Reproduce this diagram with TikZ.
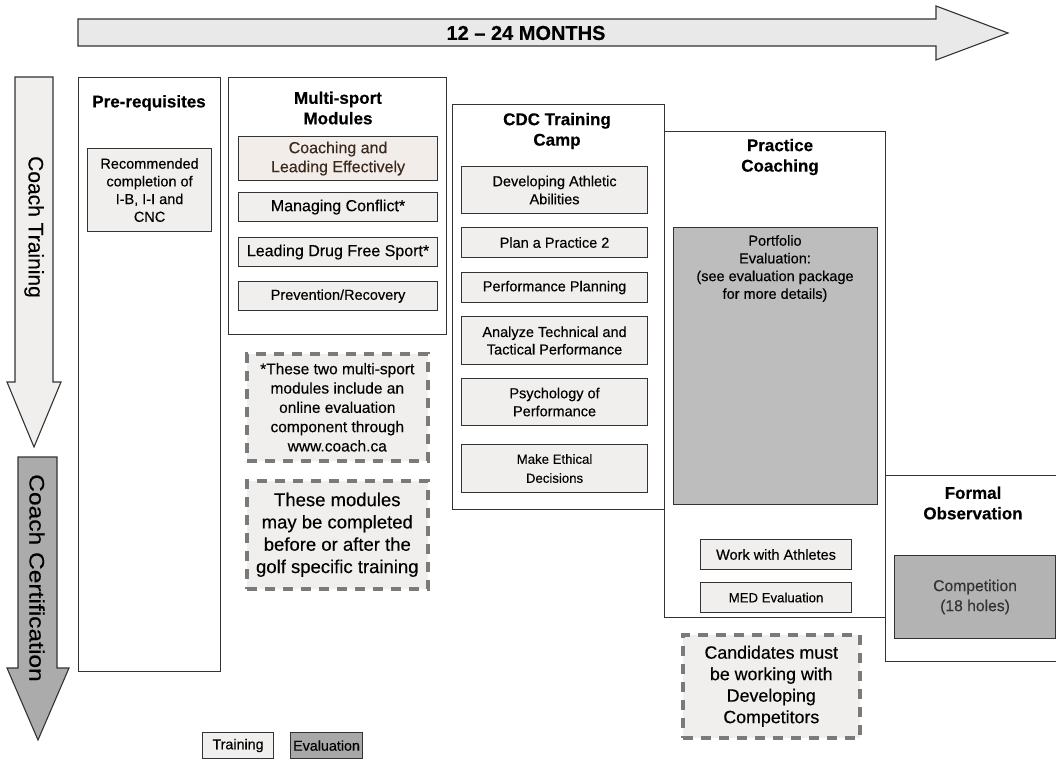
\documentclass[tikz,border=0pt]{standalone}
\usepackage{fontspec}
\setmainfont{Liberation Sans}[FakeBold=0.3]
\definecolor{linec}{HTML}{333333}
\definecolor{trainfill}{HTML}{F1EFEE}
\definecolor{pinkfill}{HTML}{F3EDEA}
\definecolor{arrowfill}{HTML}{E9E9E9}
\definecolor{certfill}{HTML}{ABABAB}
\definecolor{evalfill}{HTML}{BDBDBD}
\definecolor{compfill}{HTML}{B3B3B3}
\definecolor{legevfill}{HTML}{A8A8A8}
\definecolor{dashc}{HTML}{7A7A7A}
\definecolor{browntext}{HTML}{3A2A1E}
\definecolor{comptext}{HTML}{333333}
\newcommand{\fs}[2]{\fontsize{#1}{#2}\selectfont}
\begin{document}
\begin{tikzpicture}[x=1pt,y=-1pt,
  cont/.style={draw=linec, line width=1.1pt, fill=white, inner sep=0pt, anchor=north west},
  bx/.style={draw=linec, line width=1.1pt, fill=trainfill, inner sep=0pt, anchor=north west, align=center, text=black},
  evbx/.style={bx, fill=evalfill},
  ttl/.style={font=\bfseries\fs{17}{20.5}, align=center, inner sep=0pt, text=black},
  note/.style={draw=dashc, line width=3.6pt, dash pattern=on 10pt off 8pt, fill=trainfill, inner sep=0pt, anchor=north west, align=center}
]
\useasboundingbox (0,0) rectangle (1056,759);

% ---- top arrow
\draw[linec, line width=1.1pt, fill=arrowfill]
  (78,19) -- (936,19) -- (936,6) -- (1008,33) -- (936,60) -- (936,46) -- (78,46) -- cycle;
\node[font=\bfseries\fs{20}{24}, inner sep=0pt] (months) at (526,33) {12 -- 24 MONTHS};

% ---- Coach Training arrow
\draw[linec, line width=1.1pt, fill=trainfill]
  (15,77) -- (53,77) -- (53,382) -- (61,382) -- (34,447) -- (7,382) -- (15,382) -- cycle;
\node[font=\fs{21}{24}, rotate=-90, inner sep=0pt] (ctrain) at (34,227) {Coach Training};

% ---- Coach Certification arrow
\draw[linec, line width=1.1pt, fill=certfill]
  (18,457) -- (57,457) -- (57,668) -- (69,668) -- (38,740) -- (7,668) -- (18,668) -- cycle;
\node[font=\fs{21}{24}, rotate=-90, inner sep=0pt] (ccert) at (37,578) {\scalebox{1.17}[1]{Coach Certification}};

% ---- Pre-requisites
\node[cont, minimum width=142, minimum height=594] (pre) at (78,77) {};
\node[ttl] (pretitle) at (149,103) {Pre-requisites};
\node[bx, minimum width=124, minimum height=83, font=\fs{14.5}{17.7}] (rec) at (87,148)
  {Recommended\\completion of\\I-B, I-I and\\CNC};

% ---- Multi-sport modules
\node[cont, minimum width=218, minimum height=257] (multi) at (228,77) {};
\node[ttl] (multititle) at (338,108) {Multi-sport\\Modules};
\node[bx, fill=pinkfill, text=browntext, minimum width=199, minimum height=44, font=\fs{16}{19}] (cle) at (238,136)
  {Coaching and\\Leading Effectively};
\node[bx, minimum width=199, minimum height=29, font=\fs{16}{19}] (mc) at (238,192) {Managing Conflict*};
\node[bx, minimum width=199, minimum height=29, font=\fs{16}{19}] (ldfs) at (238,237) {Leading Drug Free Sport*};
\node[bx, minimum width=199, minimum height=29, font=\fs{14.5}{17}] (pr) at (238,281) {Prevention/Recovery};

% notes below multi-sport
\node[note, minimum width=181, minimum height=107, font=\fs{15.5}{19.3}] (note1) at (245,352)
  {*These two multi-sport\\modules include an\\online evaluation\\component through\\www.coach.ca};
\node[note, minimum width=181, minimum height=108, font=\fs{18.5}{22.3}] (note2) at (245,479)
  {These modules\\may be completed\\before or after the\\golf specific training};

% ---- CDC Training Camp
\node[cont, minimum width=212, minimum height=405] (cdc) at (452,104) {};
\node[ttl] (cdctitle) at (557,131) {CDC Training\\Camp};
\node[bx, minimum width=186, minimum height=47, font=\fs{14.5}{18}] (daa) at (461,166) {Developing Athletic\\Abilities};
\node[bx, minimum width=186, minimum height=30, font=\fs{14.5}{18}] (pap) at (461,227) {Plan a Practice 2};
\node[bx, minimum width=186, minimum height=30, font=\fs{14.5}{18}] (pp) at (461,272) {Performance Planning};
\node[bx, minimum width=186, minimum height=48, font=\fs{14.5}{17.5}] (atp) at (461,316) {Analyze Technical and\\Tactical Performance};
\node[bx, minimum width=186, minimum height=47, font=\fs{14.5}{18}] (psy) at (461,378) {Psychology of\\Performance};
\node[bx, minimum width=186, minimum height=48, font=\fs{13.2}{19}] (med) at (461,444) {Make Ethical\\Decisions};

% ---- Practice Coaching
\node[cont, minimum width=221, minimum height=486] (prac) at (664,131) {};
\node[ttl] (practitle) at (780,157) {Practice\\Coaching};
\node[evbx, minimum width=204, minimum height=277] (port) at (673,227) {};
\node[font=\fs{14.5}{17.7}, align=center, anchor=north, inner sep=0pt] (porttext) at (775,235)
  {Portfolio\\Evaluation:\\(see evaluation package\\for more details)};
\node[bx, minimum width=151, minimum height=30, font=\fs{14.5}{18}] (wwa) at (700,539) {Work with Athletes};
\node[bx, minimum width=151, minimum height=30, font=\fs{13.2}{18}] (mede) at (700,582) {MED Evaluation};

\node[note, minimum width=177, minimum height=103, font=\fs{17.8}{21.5}] (note3) at (681,633)
  {Candidates must\\be working with\\Developing\\Competitors};

% ---- Formal Observation
\node[cont, minimum width=190, minimum height=186] (formal) at (885,475) {};
\node[ttl] (formaltitle) at (973,503) {Formal\\Observation};
\node[bx, fill=compfill, text=comptext, minimum width=161, minimum height=83, font=\fs{15.7}{20}] (comp) at (894,555)
  {Competition\\(18 holes)};

% ---- Legend
\node[bx, minimum width=71, minimum height=26, font=\fs{14.3}{17}] (legtrain) at (202,732) {Training};
\node[bx, fill=legevfill, minimum width=72, minimum height=26, font=\fs{14.3}{17}] (legeval) at (290,732) {Evaluation};
\end{tikzpicture}
\end{document}
